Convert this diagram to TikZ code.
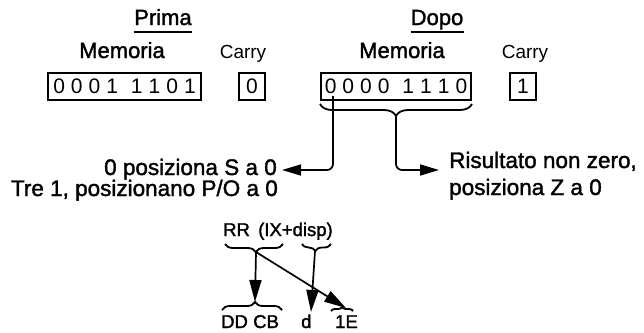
\documentclass[tikz,border=0pt]{standalone}
\usepackage{fontspec}
\setmainfont{Liberation Sans}[FakeBold=1.6]
\newfontfamily\digitfont{Liberation Sans}
\usetikzlibrary{arrows.meta,decorations.pathreplacing,calc}
\newcommand\bitrow[8]{#1\hspace{6pt}#2\hspace{6pt}#3\hspace{6pt}#4\hspace{13pt}#5\hspace{6pt}#6\hspace{6pt}#7\hspace{6pt}#8}
\begin{document}
\begin{tikzpicture}[x=1pt,y=-1pt,
  head/.style={font=\fontsize{22}{24}\selectfont, inner sep=0pt},
  carry/.style={font=\digitfont\fontsize{19}{21}\selectfont, inner sep=0pt},
  bitbox/.style={draw, line width=2pt, font=\digitfont\fontsize{21}{23}\selectfont, minimum height=27pt, inner sep=0pt},
  note/.style={font=\fontsize{22.5}{24}\selectfont, inner sep=0pt},
  code/.style={font=\fontsize{18.5}{21}\selectfont, inner sep=0pt},
  wire/.style={line width=1.7pt},
  bigarrow/.style={wire, -{Triangle[length=19pt,width=11pt]}},
  botarrow/.style={wire, -{Triangle[length=22pt,width=12pt]}},
  brc/.style={line width=1.8pt, decorate, decoration={brace, amplitude=#1}},
]
\useasboundingbox (0,0) rectangle (644,332);

% headings
\node[head, anchor=base] (prima) at (163,25) {Prima};
\node[head, anchor=base] (dopo) at (437,25) {Dopo};
\draw[line width=1.5pt] ($(prima.base west)+(0,7)$) -- ($(prima.base east)+(0,7)$);
\draw[line width=1.5pt] ($(dopo.base west)+(0,7)$) -- ($(dopo.base east)+(0,7)$);

\node[head, anchor=base] (mem1) at (122,58) {Memoria};
\node[carry, anchor=base] (car1) at (243,58) {Carry};
\node[head, anchor=base] (mem2) at (402,58) {Memoria};
\node[carry, anchor=base] (car2) at (525,58) {Carry};

% boxes
\node[bitbox, minimum width=153pt] (box1) at (124.5,86.5) {\bitrow00011101};
\node[bitbox, minimum width=26pt] (c1) at (252,86.5) {0};
\node[bitbox, minimum width=150pt] (box2) at (396,86.5) {\bitrow00001110};
\node[bitbox, minimum width=26pt] (c2) at (523,86.5) {1};

% brace under result
\draw[brc=12, decoration={mirror}] ($(box2.south west)+(0,3)$) -- ($(box2.south east)+(0,3)$);
\coordinate (b7) at (333,96);
\coordinate (tipR) at (396,115);
\coordinate (ltip) at (282,170);
\coordinate (rtip) at (439,170);
\draw[bigarrow, rounded corners=6pt] (b7) |- (ltip);
\draw[bigarrow, rounded corners=6pt] (tipR) |- (rtip);

% notes
\node[note, anchor=base east] (l1) at (277,175) {0 posiziona S a 0};
\node[note, anchor=base east] (l2) at (278,196) {Tre 1, posizionano P/O a 0};
\node[note, anchor=base west] (r1) at (449,168) {Risultato non zero,};
\node[note, anchor=base west] (r2) at (449,195) {posiziona Z a 0};

% instruction encoding
\node[code, anchor=base west] (rr) at (223,236) {RR};
\node[code, anchor=base west] (ix) at (258,236) {(IX+disp)};
\draw[brc=8, decoration={mirror,aspect=0.53}] (225,244) -- (283,244);
\draw[brc=7, decoration={mirror,aspect=0.46}] (302,244) -- (331,244);
\coordinate (tipA) at (256,252);
\coordinate (tipB) at (315,251);

\draw[brc=8, decoration={aspect=0.55}] (222,310) -- (282,310);
\draw[brc=4] (331,311) -- (353,311);
\coordinate (tipC) at (255,302);
\coordinate (tipD) at (346,308);
\coordinate (dtip) at (311,312);

\draw[botarrow] (tipA) -- (tipC);
\draw[botarrow] (tipA) -- (tipD);
\draw[botarrow] (tipB) -- (dtip);

\node[code, anchor=base west] (dd) at (221,328) {DD};
\node[code, anchor=base west] (cb) at (253,328) {CB};
\node[code, anchor=base west] (dn) at (301,328) {d};
\node[code, anchor=base west] (e1) at (335,328) {1E};
\end{tikzpicture}
\end{document}
